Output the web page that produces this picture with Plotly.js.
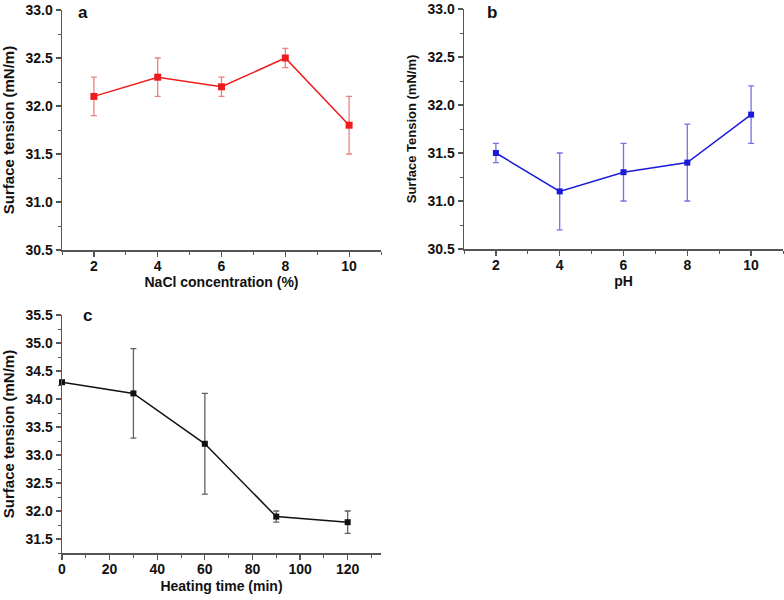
<!DOCTYPE html>
<html>
<head>
<meta charset="utf-8">
<script src="https://cdn.plot.ly/plotly-3.0.1.min.js"></script>
<style>html,body{margin:0;padding:0;background:#fff;}#chart{width:784px;height:600px;}</style>
</head>
<body>
<div id="chart"></div>
<script>
// Panel a: NaCl concentration
const naclConc = [2, 4, 6, 8, 10];
const naclTension = [32.1, 32.3, 32.2, 32.5, 31.8];
const naclErr = [0.2, 0.2, 0.1, 0.1, 0.3];
// Panel b: pH
const phValues = [2, 4, 6, 8, 10];
const phTension = [31.5, 31.1, 31.3, 31.4, 31.9];
const phErr = [0.1, 0.4, 0.3, 0.4, 0.3];
// Panel c: heating time
const heatTime = [0, 30, 60, 90, 120];
const heatTension = [34.3, 34.1, 33.2, 31.9, 31.8];
const heatErr = [0, 0.8, 0.9, 0.1, 0.2];

const W = 784, H = 600;
const px = v => v / W;
const py = v => 1 - v / H;
const FONT = 'Arial, "Liberation Sans", sans-serif';

function mkTrace(x, y, err, color, errColor, xa, ya, msize) {
  return {
    x: x, y: y, xaxis: xa, yaxis: ya, type: 'scatter', mode: 'lines+markers',
    line: {color: color, width: 1.5},
    marker: {symbol: 'square', size: msize, color: color},
    error_y: {type: 'data', array: err, visible: true, color: errColor, thickness: 1.3, width: 3},
    cliponaxis: false, showlegend: false, hoverinfo: 'x+y'
  };
}

const data = [
  mkTrace(naclConc, naclTension, naclErr, '#ee1c1c', '#f08080', 'x', 'y', 7),
  mkTrace(phValues, phTension, phErr, '#1a1ad8', '#7373e6', 'x2', 'y2', 6),
  mkTrace(heatTime, heatTension, heatErr, '#111111', '#606060', 'x3', 'y3', 6)
];

function xAxis(domain, range, dtick, minorDtick, title, anchor, standoff) {
  return {
    domain: domain, range: range, anchor: anchor, dtick: dtick, tick0: 0,
    showline: true, linecolor: '#555', linewidth: 1.5, showgrid: false, zeroline: false,
    ticks: 'outside', ticklen: 5, tickwidth: 1.2, tickcolor: '#555', ticklabelstandoff: -2,
    minor: {dtick: minorDtick, ticks: 'outside', ticklen: 3, tickwidth: 1, tickcolor: '#555', showgrid: false},
    tickfont: {family: FONT, size: 14, color: '#111', weight: 'bold'},
    title: {text: title, font: {family: FONT, size: 14, color: '#111', weight: 'bold'}, standoff: standoff},
    automargin: false, fixedrange: true
  };
}
function yAxis(domain, range, title, tsize, anchor) {
  return {
    domain: domain, range: range, anchor: anchor, dtick: 0.5, tick0: 0, tickformat: '.1f',
    showline: true, linecolor: '#555', linewidth: 1.5, showgrid: false, zeroline: false,
    ticks: 'outside', ticklen: 5, tickwidth: 1.2, tickcolor: '#555',
    minor: {dtick: 0.25, ticks: 'outside', ticklen: 3, tickwidth: 1, tickcolor: '#555', showgrid: false},
    tickfont: {family: FONT, size: 14, color: '#111', weight: 'bold'},
    title: {text: title, font: {family: FONT, size: tsize, color: '#111', weight: 'bold'}, standoff: 8},
    automargin: false, fixedrange: true
  };
}

const layout = {
  width: W, height: H,
  margin: {l: 0, r: 0, t: 0, b: 0},
  paper_bgcolor: '#fff', plot_bgcolor: '#fff',
  showlegend: false,
  xaxis: xAxis([px(62), px(381)], [1, 11], 2, 1, 'NaCl concentration (%)', 'y', 2),
  yaxis: yAxis([py(250), py(10)], [30.5, 33.0], 'Surface tension (mN/m)', 15, 'x'),
  xaxis2: xAxis([px(464), px(783)], [1, 11], 2, 1, 'pH', 'y2', 2),
  yaxis2: yAxis([py(249), py(9)], [30.5, 33.0], 'Surface Tension (mN/m)', 13, 'x2'),
  xaxis3: xAxis([px(62), px(381)], [0, 134], 20, 10, 'Heating time (min)', 'y3', 5),
  yaxis3: yAxis([py(553), py(315)], [31.25, 35.5], 'Surface tension (mN/m)', 15, 'x3'),
  annotations: [
    {text: 'a', x: px(83), y: py(12), xref: 'paper', yref: 'paper', showarrow: false, xanchor: 'center', yanchor: 'middle', font: {family: FONT, size: 17, color: '#111', weight: 'bold'}},
    {text: 'b', x: px(492), y: py(12), xref: 'paper', yref: 'paper', showarrow: false, xanchor: 'center', yanchor: 'middle', font: {family: FONT, size: 17, color: '#111', weight: 'bold'}},
    {text: 'c', x: px(87), y: py(316), xref: 'paper', yref: 'paper', showarrow: false, xanchor: 'center', yanchor: 'middle', font: {family: FONT, size: 17, color: '#111', weight: 'bold'}}
  ]
};

Plotly.newPlot('chart', data, layout, {displayModeBar: false, staticPlot: true});
</script>
</body>
</html>
